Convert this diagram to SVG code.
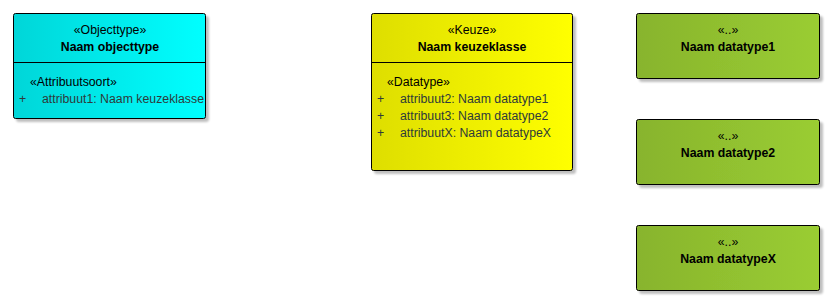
<svg xmlns="http://www.w3.org/2000/svg" width="839" height="306" viewBox="0 0 839 306">
  <defs>
    <linearGradient id="gCyan" x1="0" y1="0" x2="1" y2="0">
      <stop offset="0" stop-color="#00d6d8"/>
      <stop offset="1" stop-color="#00ffff"/>
    </linearGradient>
    <linearGradient id="gYellow" x1="0" y1="0" x2="1" y2="0">
      <stop offset="0" stop-color="#dede00"/>
      <stop offset="1" stop-color="#ffff00"/>
    </linearGradient>
    <linearGradient id="gGreen" x1="0" y1="0" x2="1" y2="0">
      <stop offset="0" stop-color="#88b42d"/>
      <stop offset="1" stop-color="#9acd32"/>
    </linearGradient>
    <filter id="shadow" x="-10%" y="-10%" width="130%" height="130%">
      <feDropShadow dx="3" dy="3" stdDeviation="1.3" flood-color="#000" flood-opacity="0.25"/>
    </filter>
  </defs>
  <style>
    .box { stroke: #000; stroke-width: 1; filter: url(#shadow); }
    .sep { stroke: #000; stroke-width: 1; }
    text { font-family: "Liberation Sans", Arial, sans-serif; font-size: 12.3px; fill: #000; }
    .title { font-weight: bold; text-anchor: middle; }
    .stereo { text-anchor: middle; }
    .attr { fill: #2e3a3a; }
  </style>

  <g id="objecttype">
    <rect class="box" x="13.5" y="13.5" width="192" height="105" rx="2" fill="url(#gCyan)"/>
    <line class="sep" x1="13.5" y1="62.5" x2="205.5" y2="62.5"/>
    <text class="stereo" x="110" y="34">«Objecttype»</text>
    <text class="title" x="110" y="51">Naam objecttype</text>
    <text x="30" y="86">«Attribuutsoort»</text>
    <text class="attr" x="19" y="103">+</text>
    <text class="attr" x="42" y="103">attribuut1: Naam keuzeklasse</text>
  </g>

  <g id="keuzeklasse">
    <rect class="box" x="371.5" y="13.5" width="201" height="157" rx="2" fill="url(#gYellow)"/>
    <line class="sep" x1="371.5" y1="62.5" x2="572.5" y2="62.5"/>
    <text class="stereo" x="472" y="34">«Keuze»</text>
    <text class="title" x="472" y="51">Naam keuzeklasse</text>
    <text x="387" y="86">«Datatype»</text>
    <text class="attr" x="377" y="103">+</text>
    <text class="attr" x="400" y="103">attribuut2: Naam datatype1</text>
    <text class="attr" x="377" y="120">+</text>
    <text class="attr" x="400" y="120">attribuut3: Naam datatype2</text>
    <text class="attr" x="377" y="137">+</text>
    <text class="attr" x="400" y="137">attribuutX: Naam datatypeX</text>
  </g>

  <g id="datatype1">
    <rect class="box" x="636.5" y="13.5" width="183" height="65" rx="2" fill="url(#gGreen)"/>
    <text class="stereo" x="728" y="34">«..»</text>
    <text class="title" x="728" y="51">Naam datatype1</text>
  </g>

  <g id="datatype2">
    <rect class="box" x="636.5" y="119.5" width="183" height="65" rx="2" fill="url(#gGreen)"/>
    <text class="stereo" x="728" y="140">«..»</text>
    <text class="title" x="728" y="157">Naam datatype2</text>
  </g>

  <g id="datatypeX">
    <rect class="box" x="636.5" y="225.5" width="183" height="65" rx="2" fill="url(#gGreen)"/>
    <text class="stereo" x="728" y="246">«..»</text>
    <text class="title" x="728" y="263">Naam datatypeX</text>
  </g>

  <g id="connectors"></g>
</svg>
